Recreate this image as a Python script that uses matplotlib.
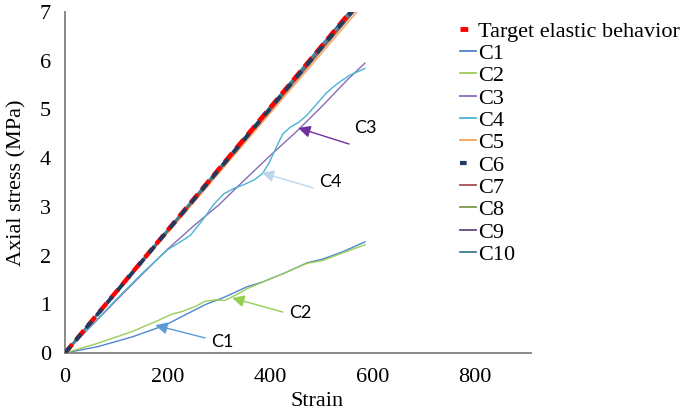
import matplotlib
matplotlib.use("Agg")
import matplotlib.pyplot as plt

# ---- data ----
target_strain = [0, 580]
target_stress = [0, 7.30]

c1_strain = [0, 64, 131, 195, 234, 273, 312, 355, 386, 430, 472, 503, 540, 585]
c1_stress = [0, 0.13, 0.33, 0.57, 0.78, 0.99, 1.15, 1.36, 1.46, 1.65, 1.85, 1.93, 2.07, 2.28]

c2_strain = [0, 64, 131, 180, 209, 228, 255, 273, 293, 312, 335, 355, 386, 430, 472, 503, 540, 585]
c2_stress = [0, 0.20, 0.44, 0.66, 0.80, 0.85, 0.96, 1.06, 1.09, 1.08, 1.20, 1.32, 1.46, 1.65, 1.84, 1.90, 2.05, 2.22]

c3_strain = [0, 50, 100, 150, 200, 250, 300, 350, 400, 450, 500, 550, 585]
c3_stress = [0, 0.54, 1.08, 1.61, 2.13, 2.60, 3.04, 3.55, 4.05, 4.53, 5.05, 5.60, 5.95]

c4_strain = [0, 50, 100, 150, 200, 225, 245, 270, 290, 310, 330, 350, 370, 385, 398, 412, 425, 440, 455, 470, 490, 510, 530, 555, 585]
c4_stress = [0, 0.55, 1.10, 1.63, 2.12, 2.28, 2.42, 2.75, 3.05, 3.27, 3.38, 3.46, 3.56, 3.68, 3.90, 4.22, 4.50, 4.64, 4.73, 4.86, 5.10, 5.34, 5.52, 5.70, 5.84]

near_strain = [0, 580]
c5_stress = [0, 7.13]
c6_stress = [0, 7.27]
c7_stress = [0, 7.20]
c8_stress = [0, 7.22]
c9_stress = [0, 7.25]
c10_stress = [0, 7.32]

# annotation labels: (text, arrow tip, arrow tail, text centre)
ann_labels = ["C3", "C4", "C2", "C1"]
ann_tip = [(455, 4.62), (384, 3.70), (326, 1.13), (176, 0.57)]
ann_tail = [(554, 4.29), (484, 3.39), (425, 0.84), (273, 0.31)]
ann_text = [(585, 4.62), (517, 3.51), (459, 0.82), (306, 0.23)]
ann_colors = ["#7030a0", "#bdd7ee", "#92d050", "#5b9bd5"]

x_ticks = [0, 200, 400, 600, 800]
y_ticks = [0, 1, 2, 3, 4, 5, 6, 7]

serif = ["Liberation Serif", "DejaVu Serif"]
sans = ["Lato", "DejaVu Sans"]

fig = plt.figure(figsize=(6.85, 4.19), dpi=100)
ax = fig.add_axes([65/685, 1-353/419, 466/685, 341/419])

lw = 1.0
ax.plot(c1_strain, c1_stress, color="#4f87cc", lw=lw, label="C1", zorder=3)
ax.plot(c2_strain, c2_stress, color="#9ccc5a", lw=lw, label="C2", zorder=3)
ax.plot(c3_strain, c3_stress, color="#8a6bb8", lw=lw, label="C3", zorder=3)
ax.plot(c4_strain, c4_stress, color="#4bb4d0", lw=lw, label="C4", zorder=3)
l_c5, = ax.plot(near_strain, c5_stress, color="#f7a35c", lw=lw, label="C5", zorder=2)
l_c7, = ax.plot(near_strain, c7_stress, color="#a05050", lw=lw, label="C7", zorder=2)
l_c8, = ax.plot(near_strain, c8_stress, color="#7d9a4a", lw=lw, label="C8", zorder=2)
l_c9, = ax.plot(near_strain, c9_stress, color="#5f4b80", lw=lw, label="C9", zorder=2)
l_c10, = ax.plot(near_strain, c10_stress, color="#3a7f93", lw=1.6, label="C10", zorder=4)
l_t, = ax.plot(target_strain, target_stress, color="#ff0000", lw=3.2,
               dashes=(2.6, 1.4), label="Target elastic behavior", zorder=5)
l_c6, = ax.plot(near_strain, c6_stress, color="#1f3b60", lw=2.8,
                dashes=(2.2, 2.0), label="C6", zorder=6)

ax.set_xlim(0, 909)
ax.set_ylim(0, 7)
ax.set_xticks(x_ticks)
ax.set_yticks(y_ticks)
ax.tick_params(length=0, labelsize=16)
ax.tick_params(axis="y", pad=10)
ax.tick_params(axis="x", pad=11)
for lab in ax.get_xticklabels() + ax.get_yticklabels():
    lab.set_family(serif)
for s in ["top", "right"]:
    ax.spines[s].set_visible(False)
for s in ["left", "bottom"]:
    ax.spines[s].set_color("#808080")
    ax.spines[s].set_linewidth(1.3)

ax.set_xlabel("Strain", fontsize=16, family=serif)
ax.xaxis.set_label_coords(0.54, -0.115)
ax.set_ylabel("Axial stress (MPa)", fontsize=16, family=serif)
ax.yaxis.set_label_coords(-0.083, 0.5)

# annotations
for text, tip, tail, tpos, col in zip(ann_labels, ann_tip, ann_tail, ann_text, ann_colors):
    ax.annotate("", xy=tip, xytext=tail,
                arrowprops=dict(arrowstyle="-|>", color=col, lw=1.0,
                                mutation_scale=18, shrinkA=0, shrinkB=0),
                zorder=7)
    ax.text(tpos[0], tpos[1], text, fontsize=13, family=sans,
            ha="center", va="center", zorder=7)

handles = [l_t] + [ax.get_lines()[i] for i in range(4)] + [l_c5, l_c6, l_c7, l_c8, l_c9, l_c10]
labels = [h.get_label() for h in handles]
leg = fig.legend(handles, labels, loc="upper left", bbox_to_anchor=(460/685, 1-21/419),
                 frameon=False, prop={"family": serif, "size": 16},
                 handlelength=0.7, handletextpad=0.1, labelspacing=0.08,
                 borderpad=0, borderaxespad=0)
for h in leg.get_lines():
    h.set_linewidth(1.3)
leg.get_lines()[0].set_linewidth(3.5)
leg.get_lines()[0].set_dashes((1.6, 5))
leg.get_lines()[6].set_linewidth(3)
leg.get_lines()[6].set_dashes((1.6, 5))

fig.savefig("out.png", dpi=100)
